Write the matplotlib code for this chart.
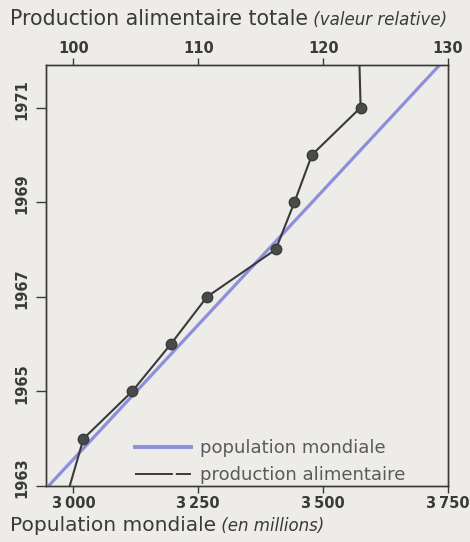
import matplotlib
matplotlib.use('Agg')
from matplotlib import pyplot as plt
from matplotlib.lines import Line2D
from matplotlib.transforms import ScaledTranslation

# données
annees = [1963, 1964, 1965, 1966, 1967, 1968, 1969, 1970, 1971, 1972]
population = [2950, 3038, 3126, 3214, 3302, 3390, 3478, 3566, 3654, 3742]
production = [99.7, 100.8, 104.7, 107.8, 110.7, 116.2, 117.7, 119.1, 123.0, 122.9]

pop_ticks = [3000, 3250, 3500, 3750]
pop_labels = ['3\u2009000', '3\u2009250', '3\u2009500', '3\u2009750']
prod_ticks = [100, 110, 120, 130]
year_ticks = [1963, 1965, 1967, 1969, 1971]

fond = '#edece9'
gris = '#3a3a3a'
bleu = '#8c8fdc'

plt.rcParams['font.family'] = ['DejaVu Sans']

fig = plt.figure(figsize=(4.7, 5.42), dpi=100, facecolor=fond)
ax = fig.add_axes([46 / 470, 1 - 486 / 542, (448 - 46) / 470, (486 - 65) / 542])
ax.set_facecolor(fond)

# axe du haut : production alimentaire
ax2 = ax.twiny()

ax.plot(population, annees, color=bleu, lw=2.3, solid_capstyle='butt', zorder=2)
ax2.plot(production, annees, color=gris, lw=1.5, marker='o', markersize=7.5,
         markerfacecolor='#4a4a4a', markeredgecolor=gris, markevery=range(1, 9), zorder=3)

ax.set_xlim(2945, 3750)
ax2.set_xlim(97.8, 130)
ax.set_ylim(1963, 1971.9)

ax.set_xticks(pop_ticks)
ax.set_xticklabels(pop_labels)
ax.set_yticks(year_ticks)
ax.set_yticklabels([str(a) for a in year_ticks], rotation=90, va='center')
ax2.set_xticks(prod_ticks)
ax2.set_xticklabels([str(p) for p in prod_ticks])

for a in (ax, ax2):
    for s in a.spines.values():
        s.set_color(gris)
        s.set_linewidth(1.0)
    a.tick_params(colors=gris, width=1.0, length=5, labelsize=10.5, pad=3)
    for lab in a.get_xticklabels() + a.get_yticklabels():
        lab.set_fontweight('bold')
        lab.set_color(gris)
ax.tick_params(axis='y', length=7, pad=5)
ax.tick_params(axis='x', length=5, pad=2)
ax2.tick_params(axis='x', length=5, pad=1.5)

# les années sont un peu remontées par rapport aux graduations
decalage = ScaledTranslation(0, 8 / 100, fig.dpi_scale_trans)
for lab in ax.get_yticklabels():
    lab.set_transform(lab.get_transform() + decalage)

# légende
poignees = [Line2D([], [], color=bleu, lw=2.8),
            Line2D([], [], color=gris, lw=1.4, dashes=(19.5, 1.5, 8.5, 30))]
leg = ax.legend(poignees, ['population mondiale', 'production alimentaire'],
                loc='lower left', bbox_to_anchor=(0.221, 0.004), frameon=False,
                borderaxespad=0, borderpad=0,
                handlelength=3.1, handletextpad=0.5, labelspacing=0.5,
                prop={'size': 13})
for t in leg.get_texts():
    t.set_color('#5a5a5a')

# titres
t1 = fig.text(10 / 470, 1 - 25 / 542, 'Production alimentaire totale',
              fontsize=14.8, color=gris, va='baseline', ha='left')
ax.annotate(' (valeur relative)', xy=(1, 0), xycoords=t1, va='bottom', ha='left',
            fontsize=12, style='italic', color=gris, annotation_clip=False)

t2 = fig.text(10 / 470, 1 - 531 / 542, 'Population mondiale',
              fontsize=14.5, color=gris, va='baseline', ha='left')
ax.annotate(' (en millions)', xy=(1, 0), xycoords=t2, va='bottom', ha='left',
            fontsize=12, style='italic', color=gris, annotation_clip=False)

fig.savefig('out.png', dpi=100, facecolor=fond)
